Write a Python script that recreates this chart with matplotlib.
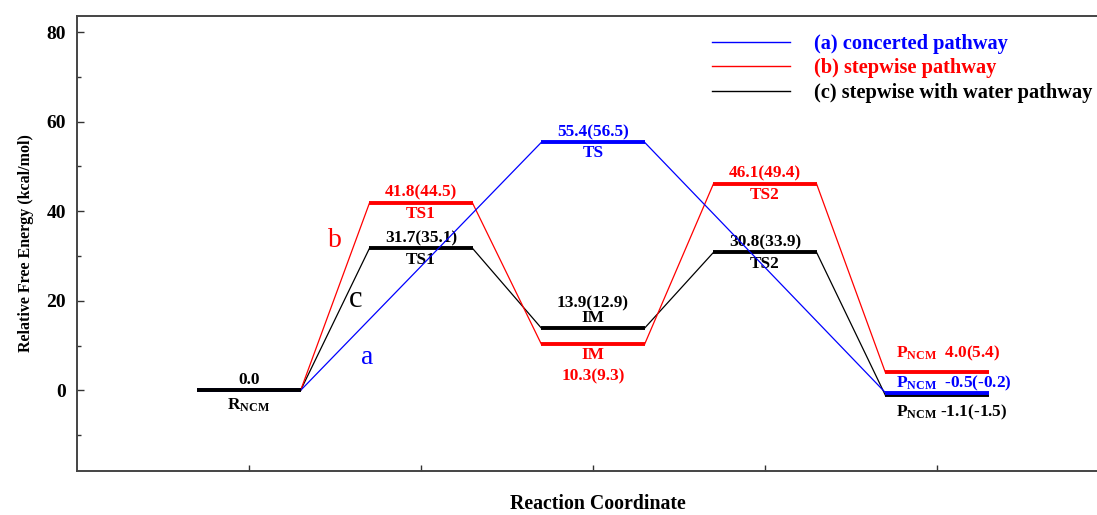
import matplotlib
matplotlib.use("Agg")
import matplotlib.pyplot as plt
from matplotlib.ticker import MultipleLocator

plt.rcParams['font.family'] = ['Liberation Serif', 'DejaVu Serif']
plt.rcParams['font.weight'] = 'bold'
plt.rcParams['mathtext.fontset'] = 'custom'
plt.rcParams['mathtext.rm'] = 'Liberation Serif:bold'
plt.rcParams['mathtext.bf'] = 'Liberation Serif:bold'
plt.rcParams['mathtext.it'] = 'Liberation Serif:bold'

# ---- data ----
conc_x = [1, 3, 5]
conc_E = [0.0, 55.4, -0.5]
conc_E2 = [None, 56.5, -0.2]
conc_names = ['', 'TS', 'P']

step_x = [1, 2, 3, 4, 5]
step_E = [0.0, 41.8, 10.3, 46.1, 4.0]
step_E2 = [None, 44.5, 9.3, 49.4, 5.4]
step_names = ['R', 'TS1', 'IM', 'TS2', 'P']

water_x = [1, 2, 3, 4, 5]
water_E = [0.0, 31.7, 13.9, 30.8, -1.1]
water_E2 = [None, 35.1, 12.9, 33.9, -1.5]
water_names = ['R', 'TS1', 'IM', 'TS2', 'P']

legend_labels = ['(a) concerted pathway', '(b) stepwise pathway', '(c) stepwise with water pathway']
colors = ['#0000FF', '#FF0000', '#000000']
yticks = [0, 20, 40, 60, 80]

HALF = 0.3
LW_LEVEL = 2.8
LW_LINK = 0.9
FS = 12.4

fig = plt.figure(figsize=(10.97, 5.15), dpi=100)
W, H = 1097, 515
ax = fig.add_axes([77 / W, (H - 471) / H, (1109 - 77) / W, (471 - 16) / H])
ax.set_xlim(0, 6)
ax.set_ylim(-18, 83.6)

def draw_path(xs, Es, color, zl=2, level_z=None):
    for i in range(len(xs)):
        z = level_z[i] if level_z is not None else zl + 1
        ax.plot([xs[i] - HALF, xs[i] + HALF], [Es[i], Es[i]], color=color, lw=LW_LEVEL,
                solid_capstyle='butt', zorder=z)
        if i < len(xs) - 1:
            ax.plot([xs[i] + HALF, xs[i + 1] - HALF], [Es[i], Es[i + 1]], color=color,
                    lw=LW_LINK, zorder=zl)

draw_path(water_x, water_E, colors[2], zl=2, level_z=[10, 3, 3, 3, 3])
draw_path(step_x, step_E, colors[1], zl=2, level_z=[1, 3, 3, 3, 3])
draw_path(conc_x, conc_E, colors[0], zl=4, level_z=[1, 5, 5])

def lab(x, y, s, color, dy, ha='center', dx=0, fs=FS):
    ax.annotate(s, (x, y), xytext=(dx, dy), textcoords='offset points', ha=ha, va='center',
                color=color, fontsize=fs, fontweight='bold')

def fmt(e, e2):
    return f"{e:.1f}({e2:.1f})"

# reactant
lab(water_x[0], water_E[0], f"{water_E[0]:.1f}", 'black', 7.5)
lab(water_x[0], water_E[0], r'$\mathbf{R_{NCM}}$', 'black', -10.5)

# concerted TS
lab(conc_x[1], conc_E[1], fmt(conc_E[1], conc_E2[1]), colors[0], 7)
lab(conc_x[1], conc_E[1], conc_names[1], colors[0], -8)

# stepwise and water TS1 / TS2
for idx in (1, 3):
    lab(step_x[idx], step_E[idx], fmt(step_E[idx], step_E2[idx]), colors[1], 7.5)
    lab(step_x[idx], step_E[idx], step_names[idx], colors[1], -8)
    lab(water_x[idx], water_E[idx], fmt(water_E[idx], water_E2[idx]), colors[2], 7.5)
    lab(water_x[idx], water_E[idx], water_names[idx], colors[2], -8)

# IM
lab(water_x[2], water_E[2], fmt(water_E[2], water_E2[2]), colors[2], 18)
lab(water_x[2], water_E[2], water_names[2], colors[2], 7)
lab(step_x[2], step_E[2], step_names[2], colors[1], -8)
lab(step_x[2], step_E[2], fmt(step_E[2], step_E2[2]), colors[1], -23)

# products
px = 4.76
lab(px, step_E[4], r'$\mathbf{P_{NCM}}$' + f"  {step_E[4]:.1f}({step_E2[4]:.1f})", colors[1], 13.5, ha='left')
lab(px, conc_E[2], r'$\mathbf{P_{NCM}}$' + f"  {conc_E[2]:.1f}({conc_E2[2]:.1f})", colors[0], 7, ha='left')
lab(px, water_E[4], r'$\mathbf{P_{NCM}}$' + f" {water_E[4]:.1f}({water_E2[4]:.1f})", colors[2], -12, ha='left')

# pathway letters
ax.text(1.50, 33.5, 'b', color=colors[1], fontsize=20, fontweight='normal', ha='center', va='center')
ax.text(1.62, 20.3, 'c', color=colors[2], fontsize=22, fontweight='normal', ha='center', va='center')
ax.text(1.69, 7.4, 'a', color=colors[0], fontsize=20, fontweight='normal', ha='center', va='center')

# legend
handles = [plt.Line2D([], [], color=c, lw=1.0) for c in colors]
leg = fig.legend(handles, legend_labels, loc='upper left', bbox_to_anchor=(712 / W, 1 - 34 / H),
                 bbox_transform=fig.transFigure, frameon=False, handlelength=3.8,
                 handletextpad=1.2, labelspacing=0.22, borderpad=0, borderaxespad=0,
                 prop={'weight': 'bold', 'size': 14.7})
for t, c in zip(leg.get_texts(), colors):
    t.set_color(c)

# axes styling
ax.set_yticks(yticks)
ax.yaxis.set_minor_locator(MultipleLocator(10))
ax.set_xticks([1, 2, 3, 4, 5])
ax.set_xticklabels([])
ax.tick_params(axis='both', which='both', direction='in', width=1.0, color='#333333')
ax.tick_params(axis='y', which='major', length=5, labelsize=14, pad=8)
ax.tick_params(axis='y', which='minor', length=3)
ax.tick_params(axis='x', which='major', length=4)
for lbl in ax.get_yticklabels():
    lbl.set_fontweight('bold')
for s in ax.spines.values():
    s.set_color('#444444')
    s.set_linewidth(1.4)
ax.spines['right'].set_visible(False)

ax.set_ylabel('Relative Free Energy (kcal/mol)', fontsize=11.5, fontweight='bold', labelpad=9)
fig.text(598 / W, 1 - 504 / H, 'Reaction Coordinate', ha='center',
         va='center', fontsize=14.3, fontweight='bold')

fig.savefig('out.png', dpi=100)
